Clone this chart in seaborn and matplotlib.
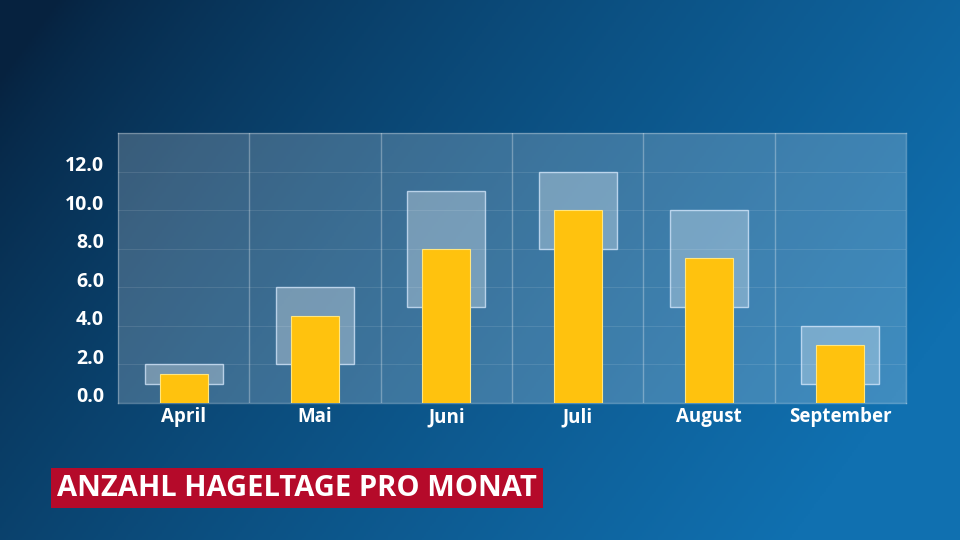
import numpy as np
import pandas as pd
import matplotlib
matplotlib.use("Agg")
import matplotlib.pyplot as plt
import matplotlib.transforms as mtransforms
import seaborn as sns

months = ["April", "Mai", "Juni", "Juli", "August", "September"]
mean_days = [1.5, 4.5, 8.0, 10.0, 7.5, 3.0]
range_low = [1.0, 2.0, 5.0, 8.0, 5.0, 1.0]
range_high = [2.0, 6.0, 11.0, 12.0, 10.0, 4.0]
y_ticks = [0, 2, 4, 6, 8, 10, 12]
title = "ANZAHL HAGELTAGE PRO MONAT"

df = pd.DataFrame({"Monat": months, "Tage": mean_days})

sns.set_theme(style="white")
plt.rcParams["font.family"] = ["Open Sans", "DejaVu Sans"]

fig = plt.figure(figsize=(9.6, 5.4), dpi=100)

# background gradient
bg = fig.add_axes([0, 0, 1, 1], zorder=0)
bg.set_axis_off()
W, H = 480, 270
xx, yy = np.meshgrid(np.linspace(0, 1, W), np.linspace(0, 1, H))
t = np.clip(0.85 * xx + 0.35 * yy - 0.05, 0, 1) ** 0.75
c0 = np.array([0x06, 0x22, 0x3f]) / 255
c1 = np.array([0x10, 0x70, 0xb0]) / 255
img = c0[None, None, :] * (1 - t[..., None]) + c1[None, None, :] * t[..., None]
bg.imshow(img, aspect="auto", extent=[0, 1, 0, 1], origin="upper")
bg.set_xlim(0, 1)
bg.set_ylim(0, 1)

ax = fig.add_axes([118 / 960, (540 - 403) / 540, 788 / 960, 270 / 540], zorder=1)
ax.set_facecolor((1, 1, 1, 0.2))

# range boxes
ax.bar(months, np.array(range_high) - np.array(range_low), bottom=range_low,
       width=0.594, color=(1, 1, 1, 0.3), edgecolor=(0.85, 0.92, 1, 0.75),
       linewidth=1.0, zorder=2)

sns.barplot(data=df, x="Monat", y="Tage", ax=ax, color="#ffc20e",
            width=0.366, saturation=1, edgecolor="#ffe680", linewidth=0.8,
            zorder=3)

ax.set_ylim(0, 14)
ax.set_xlim(-0.5, len(months) - 0.5)
ax.set_yticks(y_ticks)
ax.set_yticklabels([f"{v:.1f}" for v in y_ticks])
ax.set_xlabel("")
ax.set_ylabel("")

# grid
for v in y_ticks[1:]:
    ax.axhline(v, color=(1, 1, 1, 0.1), lw=0.8, zorder=1)
for i in range(1, len(months)):
    ax.axvline(i - 0.5, color=(1, 1, 1, 0.3), lw=1.0, zorder=1)

for s in ax.spines.values():
    s.set_color((1, 1, 1, 0.3))
    s.set_linewidth(1.0)

ax.tick_params(axis="y", length=0, pad=10, labelsize=14, labelcolor="white")
ax.tick_params(axis="x", length=0, pad=3, labelsize=13.5, labelcolor="white")
for lab in ax.get_yticklabels() + ax.get_xticklabels():
    lab.set_fontweight("bold")
off = mtransforms.ScaledTranslation(0, 0.08, fig.dpi_scale_trans)
for lab in ax.get_yticklabels():
    lab.set_transform(lab.get_transform() + off)

fig.text(57 / 960, 1 - 488 / 540, title, color="white", fontsize=21,
         fontweight="bold", va="center", ha="left", zorder=5,
         bbox=dict(boxstyle="square,pad=0.2", facecolor="#b50a2a",
                   edgecolor="none"))

fig.savefig("out.png", dpi=100)
